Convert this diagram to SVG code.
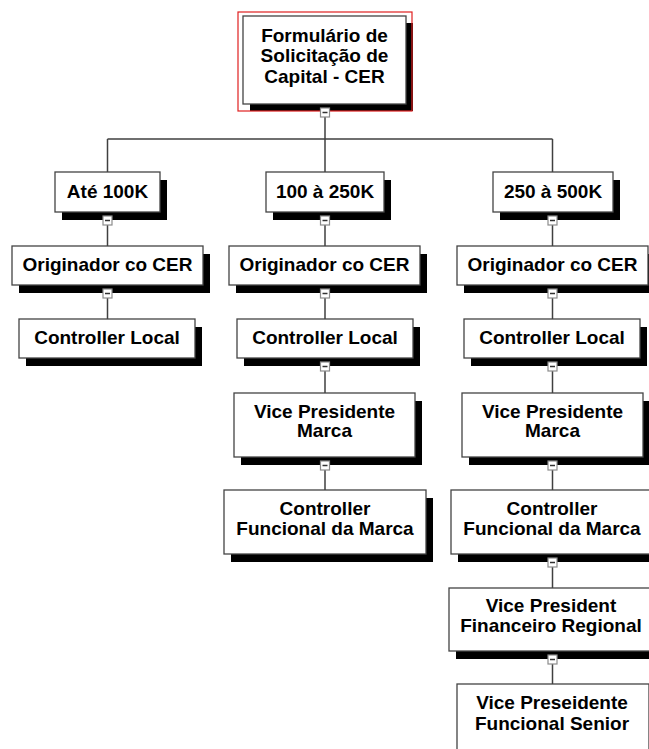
<svg xmlns="http://www.w3.org/2000/svg" width="649" height="749" viewBox="0 0 649 749">
  <style>
    .box { fill: #ffffff; stroke: #444444; stroke-width: 1.3; }
    .shadow { fill: #000000; }
    .lbl { font-family: "Liberation Sans", Arial, sans-serif; font-weight: bold; font-size: 19px; fill: #000000; text-anchor: middle; }
    .wire { fill: none; stroke: #404040; stroke-width: 1.5; }
    .tog { fill: #ffffff; stroke: #8c8c8c; stroke-width: 1.2; }
    .minus { stroke: #333333; stroke-width: 1.5; }
    .sel { fill: none; stroke: #e02020; stroke-width: 1.2; }
  </style>
  <defs>
    <!-- collapse toggle drawn under each expanded node -->
    <g id="toggle">
      <rect class="tog" x="-4.5" y="0" width="9" height="9"/>
      <line class="minus" x1="-2.5" y1="4.5" x2="2.5" y2="4.5"/>
    </g>
  </defs>

  <rect width="649" height="749" fill="#ffffff"/>

  <!-- connectors -->
  <g id="connectors">
    <path class="wire" d="M325 117 V139 M107.5 139 H552.5 M107.5 139 V172 M325 139 V172 M552.5 139 V172"/>
    <path class="wire" d="M107.5 225 V246 M107.5 298 V319"/>
    <path class="wire" d="M325 225 V246 M325 298 V319 M325 371 V393 M325 470 V490"/>
    <path class="wire" d="M552.5 225 V246 M552.5 298 V319 M552.5 371 V393 M552.5 470 V490 M552.5 567 V588 M552.5 664 V684"/>
  </g>

  <!-- root -->
  <g id="root">
    <rect class="shadow" x="250" y="23" width="163" height="88"/>
    <rect class="box" x="243" y="16" width="163" height="88"/>
    <rect class="sel" x="238" y="12" width="174" height="99"/>
    <text class="lbl" x="324.5" y="41.5">Formulário de</text>
    <text class="lbl" x="324.5" y="62">Solicitação de</text>
    <text class="lbl" x="324.5" y="82.5">Capital - CER</text>
    <use href="#toggle" x="325" y="108"/>
  </g>

  <!-- tier 1 -->
  <g id="n-ate100k">
    <rect class="shadow" x="62" y="180" width="105" height="40"/>
    <rect class="box" x="55" y="172" width="105" height="40"/>
    <text class="lbl" x="107.5" y="198">Até 100K</text>
    <use href="#toggle" x="107.5" y="216"/>
  </g>
  <g id="n-100a250k">
    <rect class="shadow" x="273" y="180" width="118" height="40"/>
    <rect class="box" x="266" y="172" width="118" height="40"/>
    <text class="lbl" x="325" y="198">100 à 250K</text>
    <use href="#toggle" x="325" y="216"/>
  </g>
  <g id="n-250a500k">
    <rect class="shadow" x="500" y="180" width="120" height="40"/>
    <rect class="box" x="493" y="172" width="120" height="40"/>
    <text class="lbl" x="553" y="198">250 à 500K</text>
    <use href="#toggle" x="552.5" y="216"/>
  </g>

  <!-- left column -->
  <g id="n-orig-1">
    <rect class="shadow" x="19" y="254" width="191" height="39"/>
    <rect class="box" x="12" y="246" width="191" height="39"/>
    <text class="lbl" x="107.5" y="271">Originador co CER</text>
    <use href="#toggle" x="107.5" y="289"/>
  </g>
  <g id="n-ctrl-1">
    <rect class="shadow" x="26" y="327" width="176" height="39"/>
    <rect class="box" x="19" y="319" width="176" height="39"/>
    <text class="lbl" x="107" y="344">Controller Local</text>
  </g>

  <!-- middle column -->
  <g id="n-orig-2">
    <rect class="shadow" x="236" y="254" width="191" height="39"/>
    <rect class="box" x="229" y="246" width="191" height="39"/>
    <text class="lbl" x="324.5" y="271">Originador co CER</text>
    <use href="#toggle" x="325" y="289"/>
  </g>
  <g id="n-ctrl-2">
    <rect class="shadow" x="244" y="327" width="176" height="39"/>
    <rect class="box" x="237" y="319" width="176" height="39"/>
    <text class="lbl" x="325" y="344">Controller Local</text>
    <use href="#toggle" x="325" y="362"/>
  </g>
  <g id="n-vpm-2">
    <rect class="shadow" x="241" y="401" width="181" height="64"/>
    <rect class="box" x="234" y="393" width="181" height="64"/>
    <text class="lbl" x="324.5" y="417.5">Vice Presidente</text>
    <text class="lbl" x="324.5" y="437">Marca</text>
    <use href="#toggle" x="325" y="461"/>
  </g>
  <g id="n-cfm-2">
    <rect class="shadow" x="231" y="498" width="202" height="64"/>
    <rect class="box" x="224" y="490" width="202" height="64"/>
    <text class="lbl" x="325" y="515">Controller</text>
    <text class="lbl" x="325" y="535">Funcional da Marca</text>
  </g>

  <!-- right column -->
  <g id="n-orig-3">
    <rect class="shadow" x="464" y="254" width="191" height="39"/>
    <rect class="box" x="457" y="246" width="191" height="39"/>
    <text class="lbl" x="552.5" y="271">Originador co CER</text>
    <use href="#toggle" x="552.5" y="289"/>
  </g>
  <g id="n-ctrl-3">
    <rect class="shadow" x="471" y="327" width="176" height="39"/>
    <rect class="box" x="464" y="319" width="176" height="39"/>
    <text class="lbl" x="552" y="344">Controller Local</text>
    <use href="#toggle" x="552.5" y="362"/>
  </g>
  <g id="n-vpm-3">
    <rect class="shadow" x="469" y="401" width="181" height="64"/>
    <rect class="box" x="462" y="393" width="181" height="64"/>
    <text class="lbl" x="552.5" y="417.5">Vice Presidente</text>
    <text class="lbl" x="552.5" y="437">Marca</text>
    <use href="#toggle" x="552.5" y="461"/>
  </g>
  <g id="n-cfm-3">
    <rect class="shadow" x="458" y="498" width="202" height="64"/>
    <rect class="box" x="451" y="490" width="202" height="64"/>
    <text class="lbl" x="552" y="515">Controller</text>
    <text class="lbl" x="552" y="535">Funcional da Marca</text>
    <use href="#toggle" x="552.5" y="558"/>
  </g>
  <g id="n-vpfr-3">
    <rect class="shadow" x="456" y="596" width="208" height="63"/>
    <rect class="box" x="449" y="588" width="208" height="63"/>
    <text class="lbl" x="551" y="612">Vice President</text>
    <text class="lbl" x="551" y="632">Financeiro Regional</text>
    <use href="#toggle" x="552.5" y="655"/>
  </g>
  <g id="n-vpfs-3">
    <rect class="shadow" x="464" y="692" width="192" height="70"/>
    <rect class="box" x="457" y="684" width="192" height="70"/>
    <text class="lbl" x="552" y="708.5">Vice Preseidente</text>
    <text class="lbl" x="552" y="729.5">Funcional Senior</text>
  </g>
</svg>
